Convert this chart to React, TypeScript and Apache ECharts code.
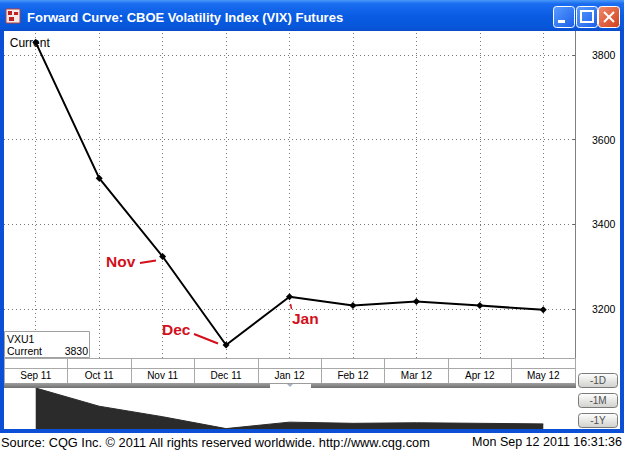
import React, { useEffect, useRef } from "react";
import * as echarts from "echarts";

const categories = ["Sep 11", "Oct 11", "Nov 11", "Dec 11", "Jan 12", "Feb 12", "Mar 12", "Apr 12", "May 12"];
const prices = [3830, 3509, 3324, 3115, 3229, 3208, 3218, 3208, 3198];
const yTicks = [3200, 3400, 3600, 3800];
const titleText = "Forward Curve: CBOE Volatility Index (VIX) Futures";
const sourceText = "Source: CQG Inc. \u00a9 2011 All rights reserved worldwide. http://www.cqg.com";
const dateText = "Mon Sep 12 2011 16:31:36";
const legendSymbol = "VXU1";
const legendLabel = "Current";
const buttonLabels = ["-1D", "-1M", "-1Y"];

const FONT = "'Liberation Sans', Arial, sans-serif";
const RED = "#d3101c";

export default function App() {
  const ref = useRef<HTMLDivElement>(null);
  useEffect(() => {
    if (!ref.current) return;
    const chart = echarts.init(ref.current, undefined, { renderer: "svg" });

    const blue = "#0a4fd6";
    const graphics: any[] = [
      // title bar
      {
        type: "rect", z: 100,
        shape: { x: 0, y: 0, width: 624, height: 31 },
        style: {
          fill: new echarts.graphic.LinearGradient(0, 0, 0, 1, [
            { offset: 0, color: "#4a9af9" },
            { offset: 0.12, color: "#1a6cf0" },
            { offset: 0.5, color: "#0a5ce2" },
            { offset: 0.9, color: "#0756da" },
            { offset: 1, color: "#0a4cc8" },
          ]),
        },
      },
      { type: "rect", z: 100, shape: { x: 0, y: 31, width: 4, height: 402 }, style: { fill: blue } },
      { type: "rect", z: 100, shape: { x: 620, y: 31, width: 4, height: 402 }, style: { fill: blue } },
      { type: "rect", z: 100, shape: { x: 0, y: 429, width: 624, height: 4 }, style: { fill: blue } },
      // icon
      { type: "rect", z: 101, shape: { x: 6, y: 9, width: 14, height: 14 }, style: { fill: "#f4e8e8", stroke: "#b04040", lineWidth: 1 } },
      { type: "rect", z: 102, shape: { x: 8, y: 11, width: 4, height: 4 }, style: { fill: "#c02020" } },
      { type: "rect", z: 102, shape: { x: 14, y: 12, width: 4, height: 3 }, style: { fill: "#c02020" } },
      { type: "rect", z: 102, shape: { x: 9, y: 17, width: 5, height: 4 }, style: { fill: "#c02020" } },
      // title text
      {
        type: "text", z: 102, x: 27, y: 17,
        style: { text: titleText, fill: "#ffffff", font: `bold 13px ${FONT}`, verticalAlign: "middle", textAlign: "left" },
      },
      // window buttons
      {
        type: "rect", z: 101, shape: { x: 553.5, y: 6.5, width: 21, height: 21, r: 3 },
        style: {
          fill: new echarts.graphic.LinearGradient(0, 0, 1, 1, [
            { offset: 0, color: "#5a9cff" }, { offset: 1, color: "#1a5ee8" },
          ]), stroke: "#ffffff", lineWidth: 1,
        },
      },
      { type: "rect", z: 102, shape: { x: 558, y: 20, width: 7, height: 3 }, style: { fill: "#ffffff" } },
      {
        type: "rect", z: 101, shape: { x: 576.5, y: 6.5, width: 21, height: 21, r: 3 },
        style: {
          fill: new echarts.graphic.LinearGradient(0, 0, 1, 1, [
            { offset: 0, color: "#5a9cff" }, { offset: 1, color: "#1a5ee8" },
          ]), stroke: "#ffffff", lineWidth: 1,
        },
      },
      { type: "rect", z: 102, shape: { x: 581, y: 11, width: 12, height: 11 }, style: { fill: "none", stroke: "#ffffff", lineWidth: 2 } },
      {
        type: "rect", z: 101, shape: { x: 598.5, y: 6.5, width: 21, height: 21, r: 3 },
        style: {
          fill: new echarts.graphic.LinearGradient(0, 0, 1, 1, [
            { offset: 0, color: "#f08a6a" }, { offset: 1, color: "#d0401c" },
          ]), stroke: "#ffffff", lineWidth: 1,
        },
      },
      { type: "line", z: 102, shape: { x1: 604, y1: 12, x2: 614, y2: 22 }, style: { stroke: "#ffffff", lineWidth: 2 } },
      { type: "line", z: 102, shape: { x1: 614, y1: 12, x2: 604, y2: 22 }, style: { stroke: "#ffffff", lineWidth: 2 } },
      // x axis band middle line
      { type: "line", z: 50, shape: { x1: 4, y1: 368.5, x2: 575, y2: 368.5 }, style: { stroke: "#a8a8a8", lineWidth: 1 } },
      // gray divider bar
      {
        type: "rect", z: 50, shape: { x: 4, y: 383, width: 572, height: 5 },
        style: {
          fill: new echarts.graphic.LinearGradient(0, 0, 0, 1, [
            { offset: 0, color: "#a0a0a0" }, { offset: 1, color: "#707070" },
          ]),
        },
      },
      { type: "rect", z: 51, shape: { x: 270, y: 384, width: 41, height: 4 }, style: { fill: "#ffffff" } },
      { type: "polygon", z: 52, shape: { points: [[287, 384], [293, 384], [290, 387]] }, style: { fill: "#a8b0c0" } },
      // legend box
      { type: "rect", z: 60, shape: { x: 4.5, y: 331.5, width: 85, height: 26 }, style: { fill: "#ffffff", stroke: "#a0a0a0", lineWidth: 1 } },
      { type: "text", z: 61, x: 7, y: 338.5, style: { text: legendSymbol, fill: "#000", font: `10.5px ${FONT}`, verticalAlign: "middle" } },
      { type: "text", z: 61, x: 7, y: 351, style: { text: legendLabel, fill: "#000", font: `10.5px ${FONT}`, verticalAlign: "middle" } },
      { type: "text", z: 61, x: 88, y: 351, style: { text: String(prices[0]), fill: "#000", font: `10.5px ${FONT}`, verticalAlign: "middle", textAlign: "right" } },
      // red annotations
      { type: "text", z: 60, x: 106, y: 261, style: { text: "Nov", fill: RED, font: `bold 15.5px ${FONT}`, verticalAlign: "middle" } },
      { type: "line", z: 60, shape: { x1: 140, y1: 263, x2: 156, y2: 260.5 }, style: { stroke: RED, lineWidth: 2 } },
      { type: "text", z: 60, x: 162, y: 329, style: { text: "Dec", fill: RED, font: `bold 15.5px ${FONT}`, verticalAlign: "middle" } },
      { type: "line", z: 60, shape: { x1: 194, y1: 334, x2: 218, y2: 343.5 }, style: { stroke: RED, lineWidth: 2 } },
      { type: "text", z: 60, x: 292, y: 318.5, style: { text: "Jan", fill: RED, font: `bold 15.5px ${FONT}`, verticalAlign: "middle" } },
      { type: "line", z: 60, shape: { x1: 290.5, y1: 304, x2: 291.5, y2: 309 }, style: { stroke: RED, lineWidth: 1.5 } },
      // footer
      { type: "text", z: 60, x: 1, y: 442, style: { text: sourceText, fill: "#000", font: `12.8px ${FONT}`, verticalAlign: "middle" } },
      { type: "text", z: 60, x: 622, y: 442, style: { text: dateText, fill: "#000", font: `12.5px ${FONT}`, verticalAlign: "middle", textAlign: "right" } },
    ];

    buttonLabels.forEach((b, i) => {
      const y = 373 + i * 20;
      graphics.push({
        type: "rect", z: 60, shape: { x: 578.5, y: y + 0.5, width: 39, height: 14, r: 3 },
        style: {
          fill: new echarts.graphic.LinearGradient(0, 0, 0, 1, [
            { offset: 0, color: "#ffffff" }, { offset: 1, color: "#d0d0cc" },
          ]), stroke: "#7a7a7a", lineWidth: 1,
        },
      });
      graphics.push({
        type: "text", z: 61, x: 598, y: y + 7.5,
        style: { text: b, fill: "#505050", font: `10px ${FONT}`, textAlign: "center", verticalAlign: "middle" },
      });
    });

    const option: any = {
      animation: false,
      backgroundColor: "#ffffff",
      textStyle: { fontFamily: FONT },
      graphic: graphics,
      grid: [
        { left: 4, top: 31, width: 571, height: 327, containLabel: false },
        { left: 4, top: 388, width: 571, height: 41, containLabel: false },
      ],
      xAxis: [
        {
          type: "category", gridIndex: 0, data: categories, boundaryGap: true,
          axisLine: { show: true, lineStyle: { color: "#a8a8a8", width: 1 } },
          axisTick: { show: true, length: 25, interval: 0, lineStyle: { color: "#a8a8a8", width: 1 } },
          axisLabel: { interval: 0, margin: 12, fontSize: 10, color: "#000", fontFamily: FONT },
          splitLine: { show: false },
        },
        {
          type: "category", gridIndex: 1, data: categories, boundaryGap: true, show: false,
        },
      ],
      yAxis: [
        {
          type: "value", gridIndex: 0, position: "right", min: 3084.25, max: 3856.7,
          axisLine: { show: true, lineStyle: { color: "#808080", width: 1 } },
          axisTick: { show: true, inside: true, length: 3, customValues: yTicks, lineStyle: { color: "#606060" } },
          axisLabel: {
            customValues: yTicks, margin: 17, fontSize: 10.5, color: "#000", fontFamily: FONT,
            formatter: (v: number) => String(Math.round(v)),
          },
          splitLine: { show: false },
        },
        { type: "value", gridIndex: 1, min: 3108, max: 3830, show: false },
      ],
      series: [
        {
          type: "line", xAxisIndex: 0, yAxisIndex: 0, data: [], silent: true,
          markLine: {
            silent: true, symbol: ["none", "none"], z: 1, label: { show: false },
            lineStyle: { type: [1, 3], color: "#7a7a7a", width: 1 },
            emphasis: { disabled: true },
            data: [
              ...yTicks.map((v) => ({ yAxis: v })),
              ...categories.map((c) => ({ xAxis: c })),
            ],
          },
        },
        {
          type: "line", xAxisIndex: 0, yAxisIndex: 0, z: 3,
          data: prices.map((v, i) =>
            i === 0
              ? { value: v, label: { show: true, formatter: "Current", position: "inside", offset: [-6, 1], color: "#000", fontSize: 12, fontFamily: FONT } }
              : v
          ),
          symbol: "diamond", symbolSize: 7,
          itemStyle: { color: "#000" },
          lineStyle: { color: "#000", width: 2 },
        },
        {
          type: "line", xAxisIndex: 1, yAxisIndex: 1, data: prices, symbol: "none",
          lineStyle: { color: "#2b2b2b", width: 1 },
          areaStyle: { color: "#2b2b2b", opacity: 1, origin: "start" },
        },
      ],
    };
    chart.setOption(option);
    return () => chart.dispose();
  }, []);
  return <div ref={ref} style={{ position: "absolute", left: 0, top: 0, width: 624, height: 450 }} />;
}
